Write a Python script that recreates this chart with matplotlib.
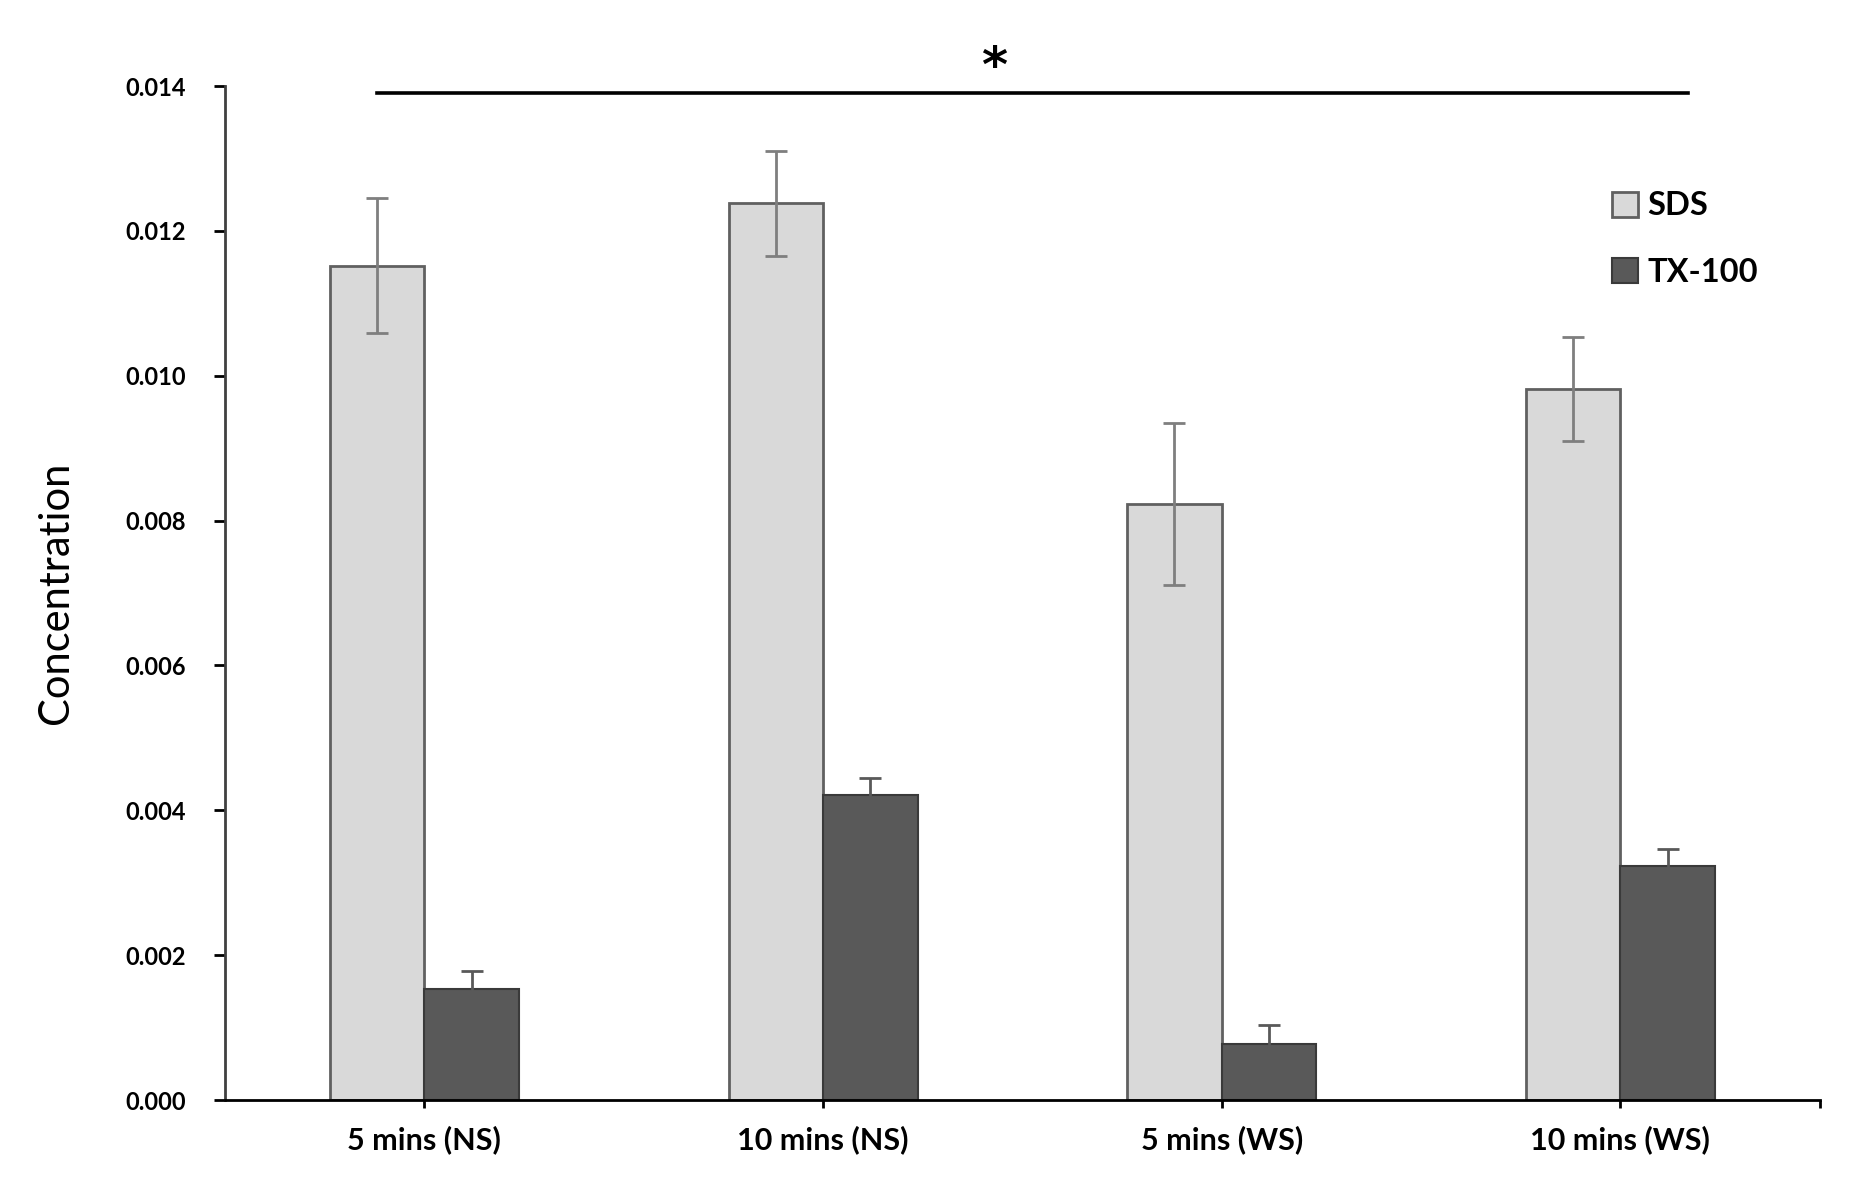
import matplotlib.pyplot as plt
import numpy as np

# dati
groups = ['5 mins (NS)', '10 mins (NS)', '5 mins (WS)', '10 mins (WS)']
sds = [0.01152, 0.01238, 0.00823, 0.00982]
sds_err = [0.00093, 0.00073, 0.00112, 0.00072]
tx = [0.00154, 0.00421, 0.00078, 0.00323]
tx_err = [0.00024, 0.00023, 0.00026, 0.00023]
yticks = [0.000, 0.002, 0.004, 0.006, 0.008, 0.010, 0.012, 0.014]

plt.rcParams['font.family'] = ['Lato', 'DejaVu Sans']

fig = plt.figure(figsize=(18.55, 12), dpi=100)
ax = fig.add_axes([0.1213, 0.0833, 0.8597, 0.845])

x = np.arange(len(groups))
w = 0.237

ax.bar(x - w/2, sds, w, align='center', color='#d9d9d9', edgecolor='#606060',
       linewidth=2, yerr=sds_err,
       error_kw=dict(ecolor='#7f7f7f', elinewidth=2, capsize=8, capthick=2),
       label='SDS', zorder=2)
ax.bar(x + w/2, tx, w, align='center', color='#595959', edgecolor='#3a3a3a',
       linewidth=1.5, yerr=tx_err,
       error_kw=dict(ecolor='#595959', elinewidth=2, capsize=8, capthick=2),
       label='TX-100', zorder=2)

ax.set_xlim(-0.5, 3.5)
ax.set_ylim(0, 0.014)
ax.set_yticks(yticks)
ax.set_yticklabels(['%.3f' % v for v in yticks], fontsize=17, fontweight='bold')
ax.set_xticks(list(x) + [3.5])
ax.set_xticklabels(groups + [''], fontsize=22, fontweight='bold')
ax.tick_params(axis='y', direction='out', length=8, width=2, pad=20)
ax.tick_params(axis='x', direction='out', length=6, width=2, pad=12)

for s in ['top', 'right']:
    ax.spines[s].set_visible(False)
ax.spines['left'].set_linewidth(2)
ax.spines['bottom'].set_linewidth(2)
ax.spines['left'].set_color('#404040')

ax.set_ylabel('Concentration', fontsize=30, labelpad=36)

# linea di significativita'
ax.plot([-0.118, 3.17], [0.0139, 0.0139], color='black', linewidth=2.6,
        clip_on=False, zorder=3)
ax.text(1.43, 0.01425, '*', fontsize=36, fontweight='bold', ha='center',
        va='center', family='DejaVu Sans')

leg = ax.legend(loc='upper left', bbox_to_anchor=(0.851, 0.925), frameon=False,
                fontsize=23.5, handlelength=0.8, handleheight=0.8,
                handletextpad=0.3, labelspacing=1.15)
for t in leg.get_texts():
    t.set_fontweight('bold')

fig.savefig('out.png', dpi=100)
